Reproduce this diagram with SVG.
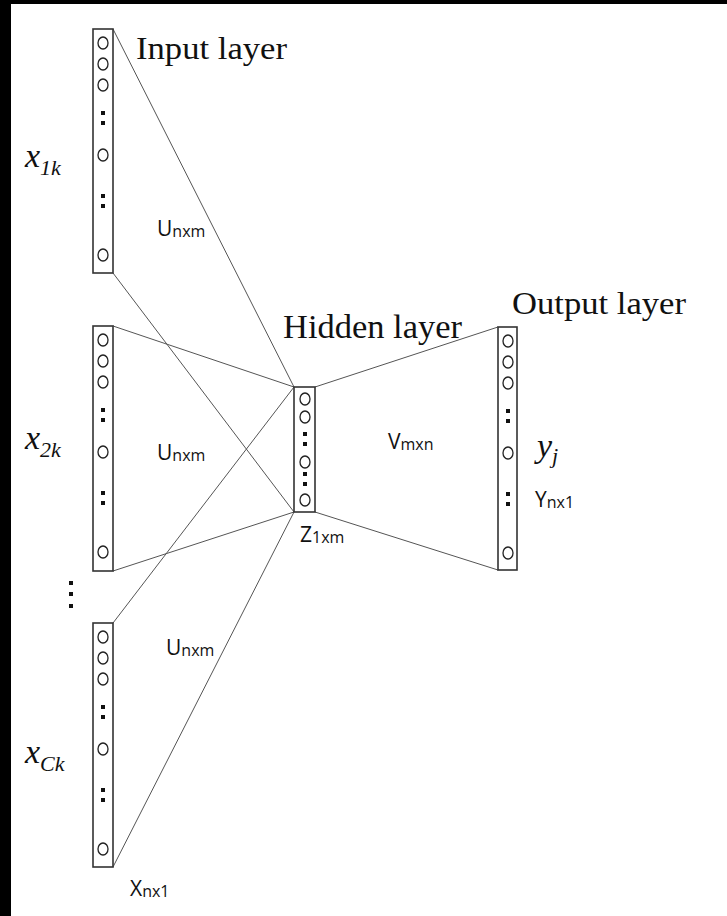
<svg xmlns="http://www.w3.org/2000/svg" width="727" height="916" viewBox="0 0 727 916">
<defs>
<style>
.box{fill:none;stroke:#333;stroke-width:1.6}
.c{fill:none;stroke:#222;stroke-width:1.3}
.d{fill:#111}
.ln{stroke:#555;stroke-width:1;fill:none}
.serif{font-family:"Liberation Serif","Times New Roman",serif;fill:#111}
.it{font-family:"Liberation Serif","Times New Roman",serif;font-style:italic;fill:#111}
.sans{font-family:"Open Sans","Liberation Sans",sans-serif;fill:#111}
</style>
<g id="col">
<ellipse class="c" cx="0" cy="14" rx="5" ry="6"/>
<ellipse class="c" cx="0" cy="35" rx="5" ry="6"/>
<ellipse class="c" cx="0" cy="56" rx="5" ry="6"/>
<rect class="d" x="-2" y="82" width="4" height="4"/>
<rect class="d" x="-2" y="92" width="4" height="4"/>
<ellipse class="c" cx="0" cy="126" rx="5" ry="6"/>
<rect class="d" x="-2" y="165" width="4" height="4"/>
<rect class="d" x="-2" y="175" width="4" height="4"/>
<ellipse class="c" cx="0" cy="226" rx="5" ry="6"/>
</g>
</defs>
<rect x="0" y="0" width="727" height="916" fill="#fff"/>
<rect x="0" y="0" width="727" height="4" fill="#000"/>
<rect x="0" y="0" width="11" height="916" fill="#000"/>

<g id="connectors">
<line class="ln" x1="113" y1="29" x2="294" y2="387"/>
<line class="ln" x1="113" y1="273" x2="294" y2="512"/>
<line class="ln" x1="113" y1="326" x2="294" y2="387"/>
<line class="ln" x1="113" y1="571" x2="294" y2="512"/>
<line class="ln" x1="113" y1="623" x2="294" y2="387"/>
<line class="ln" x1="113" y1="867" x2="294" y2="512"/>
<line class="ln" x1="315" y1="387" x2="498" y2="327"/>
<line class="ln" x1="315" y1="512" x2="498" y2="570"/>
</g>

<g id="input1">
<rect class="box" x="93" y="29" width="20" height="244"/>
<use href="#col" x="103" y="29"/>
<text class="it" x="25" y="167" font-size="34">x<tspan font-size="22" dy="8">1k</tspan></text>
</g>

<g id="input2">
<rect class="box" x="93" y="326" width="20" height="245"/>
<use href="#col" x="103" y="326"/>
<text class="it" x="25" y="449" font-size="34">x<tspan font-size="22" dy="8">2k</tspan></text>
</g>

<g id="vdots">
<rect class="d" x="69" y="581" width="4" height="4"/>
<rect class="d" x="69" y="592" width="4" height="4"/>
<rect class="d" x="69" y="604" width="4" height="4"/>
</g>

<g id="inputC">
<rect class="box" x="93" y="623" width="20" height="244"/>
<use href="#col" x="103" y="623"/>
<text class="it" x="25" y="763" font-size="34">x<tspan font-size="22" dy="8">Ck</tspan></text>
</g>

<g id="hidden">
<rect class="box" x="294" y="387" width="21" height="125"/>
<ellipse class="c" cx="305" cy="399" rx="5" ry="6"/>
<ellipse class="c" cx="305" cy="417" rx="5" ry="6"/>
<rect class="d" x="303" y="432" width="4" height="4"/>
<rect class="d" x="303" y="442" width="4" height="4"/>
<ellipse class="c" cx="305" cy="462" rx="5" ry="6"/>
<rect class="d" x="303" y="472" width="4" height="4"/>
<rect class="d" x="303" y="482" width="4" height="4"/>
<ellipse class="c" cx="305" cy="500" rx="5" ry="6"/>
</g>

<g id="output">
<rect class="box" x="498" y="327" width="19" height="243"/>
<use href="#col" x="508" y="327"/>
</g>

<g id="labels">
<text class="serif" x="136" y="59" font-size="32" textLength="151" lengthAdjust="spacingAndGlyphs">Input layer</text>
<text class="serif" x="283" y="338" font-size="33" textLength="179" lengthAdjust="spacingAndGlyphs">Hidden layer</text>
<text class="serif" x="512" y="314" font-size="32" textLength="174" lengthAdjust="spacingAndGlyphs">Output layer</text>
<text class="sans" x="157" y="236" font-size="21">U<tspan font-size="16" dy="1">nxm</tspan></text>
<text class="sans" x="157" y="460" font-size="21">U<tspan font-size="16" dy="1">nxm</tspan></text>
<text class="sans" x="166" y="655" font-size="21">U<tspan font-size="16" dy="1">nxm</tspan></text>
<text class="sans" x="388" y="449" font-size="21">V<tspan font-size="16" dy="1">mxn</tspan></text>
<text class="sans" x="300" y="542" font-size="21">Z<tspan font-size="16" dy="1">1xm</tspan></text>
<text class="sans" x="535" y="507" font-size="21">Y<tspan font-size="16" dy="1">nx1</tspan></text>
<text class="sans" x="130" y="896" font-size="21">X<tspan font-size="16" dy="1">nx1</tspan></text>
<text class="it" x="537" y="457" font-size="34">y<tspan font-size="22" dy="6">j</tspan></text>
</g>
</svg>
